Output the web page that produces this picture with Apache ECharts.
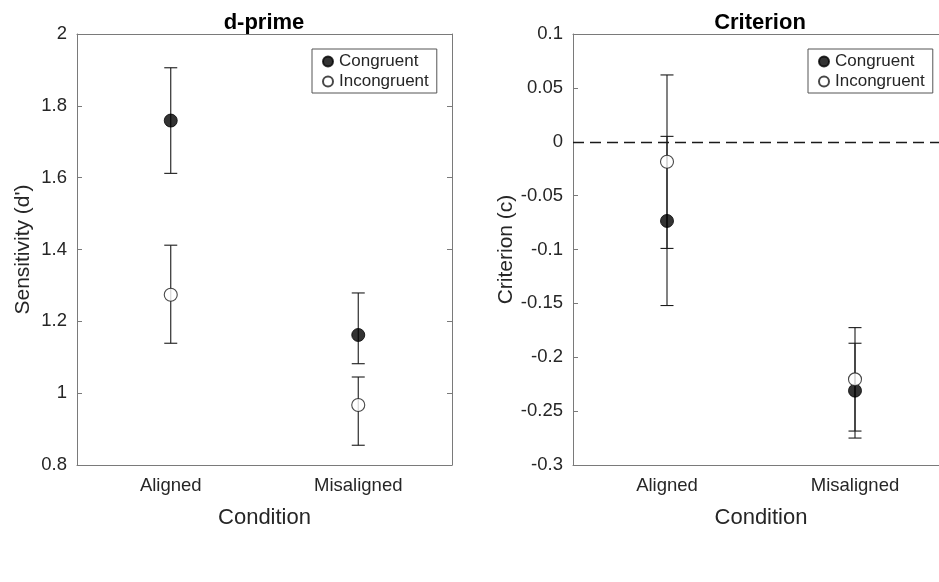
<!DOCTYPE html>
<html>
<head>
<meta charset="utf-8">
<script src="https://cdn.jsdelivr.net/npm/echarts@6/dist/echarts.min.js"></script>
<style>
  html, body { margin: 0; padding: 0; background: #fff; }
  #chart { width: 939px; height: 582px; }
</style>
</head>
<body>
<div id="chart"></div>
<script>
// conditions on the x axis
const conditions = ['Aligned', 'Misaligned'];

// d-prime panel: means and error bar ends
const dCongruent = [1.759, 1.162];
const dCongruentLow = [1.612, 1.082];
const dCongruentHigh = [1.906, 1.279];
const dIncongruent = [1.274, 0.967];
const dIncongruentLow = [1.139, 0.855];
const dIncongruentHigh = [1.412, 1.045];

// criterion panel
const cCongruent = [-0.0735, -0.231];
const cCongruentLow = [-0.152, -0.275];
const cCongruentHigh = [0.062, -0.187];
const cIncongruent = [-0.0185, -0.2205];
const cIncongruentLow = [-0.099, -0.2685];
const cIncongruentHigh = [0.005, -0.1725];

const zeroLine = 0;

const textColor = '#262626';
const boxColor = '#7a7a7a';
const font = 'Liberation Sans, Arial, sans-serif';

const chart = echarts.init(document.getElementById('chart'));

function errBars(lows, highs) {
    return lows.map((lo, i) => [i, lo, highs[i]]);
}

function renderErr(params, api) {
    const x = api.value(0);
    const lo = api.coord([x, api.value(1)]);
    const hi = api.coord([x, api.value(2)]);
    const w = 6.5;
    const style = {stroke: '#1a1a1a', lineWidth: 1.1};
    return {
        type: 'group',
        children: [
            {type: 'line', shape: {x1: lo[0], y1: lo[1], x2: hi[0], y2: hi[1]}, style: style},
            {type: 'line', shape: {x1: lo[0] - w, y1: lo[1], x2: lo[0] + w, y2: lo[1]}, style: style},
            {type: 'line', shape: {x1: hi[0] - w, y1: hi[1], x2: hi[0] + w, y2: hi[1]}, style: style}
        ]
    };
}

function axesFor(idx, yMin, yMax, yInterval, yName) {
    const xs = [
        {
            type: 'category', gridIndex: idx, data: conditions, boundaryGap: true,
            name: 'Condition', nameLocation: 'middle', nameGap: 42,
            nameTextStyle: {fontSize: 22, color: textColor, fontFamily: font},
            axisLine: {onZero: false, lineStyle: {color: boxColor}},
            axisTick: {inside: true, alignWithLabel: true, length: 5, lineStyle: {color: boxColor}},
            axisLabel: {fontSize: 18.5, color: textColor, fontFamily: font, margin: 11},
            splitLine: {show: false}
        },
        {
            type: 'category', gridIndex: idx, data: conditions, boundaryGap: true, position: 'top',
            axisLine: {onZero: false, lineStyle: {color: boxColor}},
            axisTick: {inside: true, alignWithLabel: true, length: 5, lineStyle: {color: boxColor}},
            axisLabel: {show: false}, splitLine: {show: false}
        }
    ];
    const ys = [
        {
            type: 'value', gridIndex: idx, min: yMin, max: yMax, interval: yInterval,
            name: yName, nameLocation: 'middle', nameGap: 43,
            nameTextStyle: {fontSize: 21, color: textColor, fontFamily: font},
            axisLine: {show: true, onZero: false, lineStyle: {color: boxColor}},
            axisTick: {show: true, inside: true, length: 5, lineStyle: {color: boxColor}},
            axisLabel: {fontSize: 18.5, color: textColor, fontFamily: font, margin: 10},
            splitLine: {show: false}
        },
        {
            type: 'value', gridIndex: idx, min: yMin, max: yMax, interval: yInterval, position: 'right',
            axisLine: {show: true, onZero: false, lineStyle: {color: boxColor}},
            axisTick: {show: true, inside: true, length: 5, lineStyle: {color: boxColor}},
            axisLabel: {show: false}, splitLine: {show: false}
        }
    ];
    return {xs, ys};
}

const a0 = axesFor(0, 0.8, 2, 0.2, "Sensitivity (d')");
const a1 = axesFor(1, -0.3, 0.1, 0.05, 'Criterion (c)');

const filled = {color: '#000', borderColor: '#000', borderWidth: 1};
const open = {color: '#fff', borderColor: '#1a1a1a', borderWidth: 1.1};

function legendAt(left) {
    return {
        left: left, top: 49, orient: 'vertical',
        data: ['Congruent', 'Incongruent'],
        itemWidth: 10, itemHeight: 10, itemGap: 3, padding: [4, 8, 3, 10],
        borderColor: '#555', borderWidth: 1, backgroundColor: '#fff',
        textStyle: {fontSize: 17, color: textColor, fontFamily: font, padding: [0, 0, 0, 1]},
        selectedMode: false
    };
}

chart.setOption({
    animation: false,
    title: [
        {text: 'd-prime', left: 259, top: 7, textAlign: 'center',
         textStyle: {fontSize: 22, fontWeight: 'bold', color: '#000', fontFamily: font}},
        {text: 'Criterion', left: 755, top: 7, textAlign: 'center',
         textStyle: {fontSize: 22, fontWeight: 'bold', color: '#000', fontFamily: font}}
    ],
    grid: [
        {left: 77, top: 34, width: 375, height: 431, outerBoundsMode: 'none'},
        {left: 573, top: 34, width: 376, height: 431, outerBoundsMode: 'none'}
    ],
    xAxis: a0.xs.concat(a1.xs.map(a => Object.assign({}, a, {gridIndex: 1}))),
    yAxis: a0.ys.concat(a1.ys.map(a => Object.assign({}, a, {gridIndex: 1}))),
    legend: [legendAt(312), legendAt(808)],
    series: [
        {type: 'custom', xAxisIndex: 0, yAxisIndex: 0, renderItem: renderErr, data: errBars(dCongruentLow, dCongruentHigh), z: 1},
        {type: 'custom', xAxisIndex: 0, yAxisIndex: 0, renderItem: renderErr, data: errBars(dIncongruentLow, dIncongruentHigh), z: 1},
        {type: 'custom', xAxisIndex: 2, yAxisIndex: 2, renderItem: renderErr, data: errBars(cCongruentLow, cCongruentHigh), z: 1},
        {type: 'custom', xAxisIndex: 2, yAxisIndex: 2, renderItem: renderErr, data: errBars(cIncongruentLow, cIncongruentHigh), z: 1},
        {
            type: 'line', xAxisIndex: 2, yAxisIndex: 2, data: [], silent: true,
            markLine: {
                symbol: 'none', silent: true, label: {show: false},
                lineStyle: {type: [11, 6], color: '#1a1a1a', width: 1.3},
                data: [{yAxis: zeroLine}]
            }
        },
        {name: 'Congruent', type: 'scatter', xAxisIndex: 0, yAxisIndex: 0, symbolSize: 13,
         itemStyle: filled, data: dCongruent, z: 3},
        {name: 'Incongruent', type: 'scatter', xAxisIndex: 0, yAxisIndex: 0, symbolSize: 13,
         itemStyle: open, data: dIncongruent, z: 3},
        {name: 'Congruent', type: 'scatter', xAxisIndex: 2, yAxisIndex: 2, symbolSize: 13,
         itemStyle: filled, data: cCongruent, z: 3},
        {name: 'Incongruent', type: 'scatter', xAxisIndex: 2, yAxisIndex: 2, symbolSize: 13,
         itemStyle: open, data: cIncongruent, z: 3}
    ]
});
</script>
</body>
</html>
